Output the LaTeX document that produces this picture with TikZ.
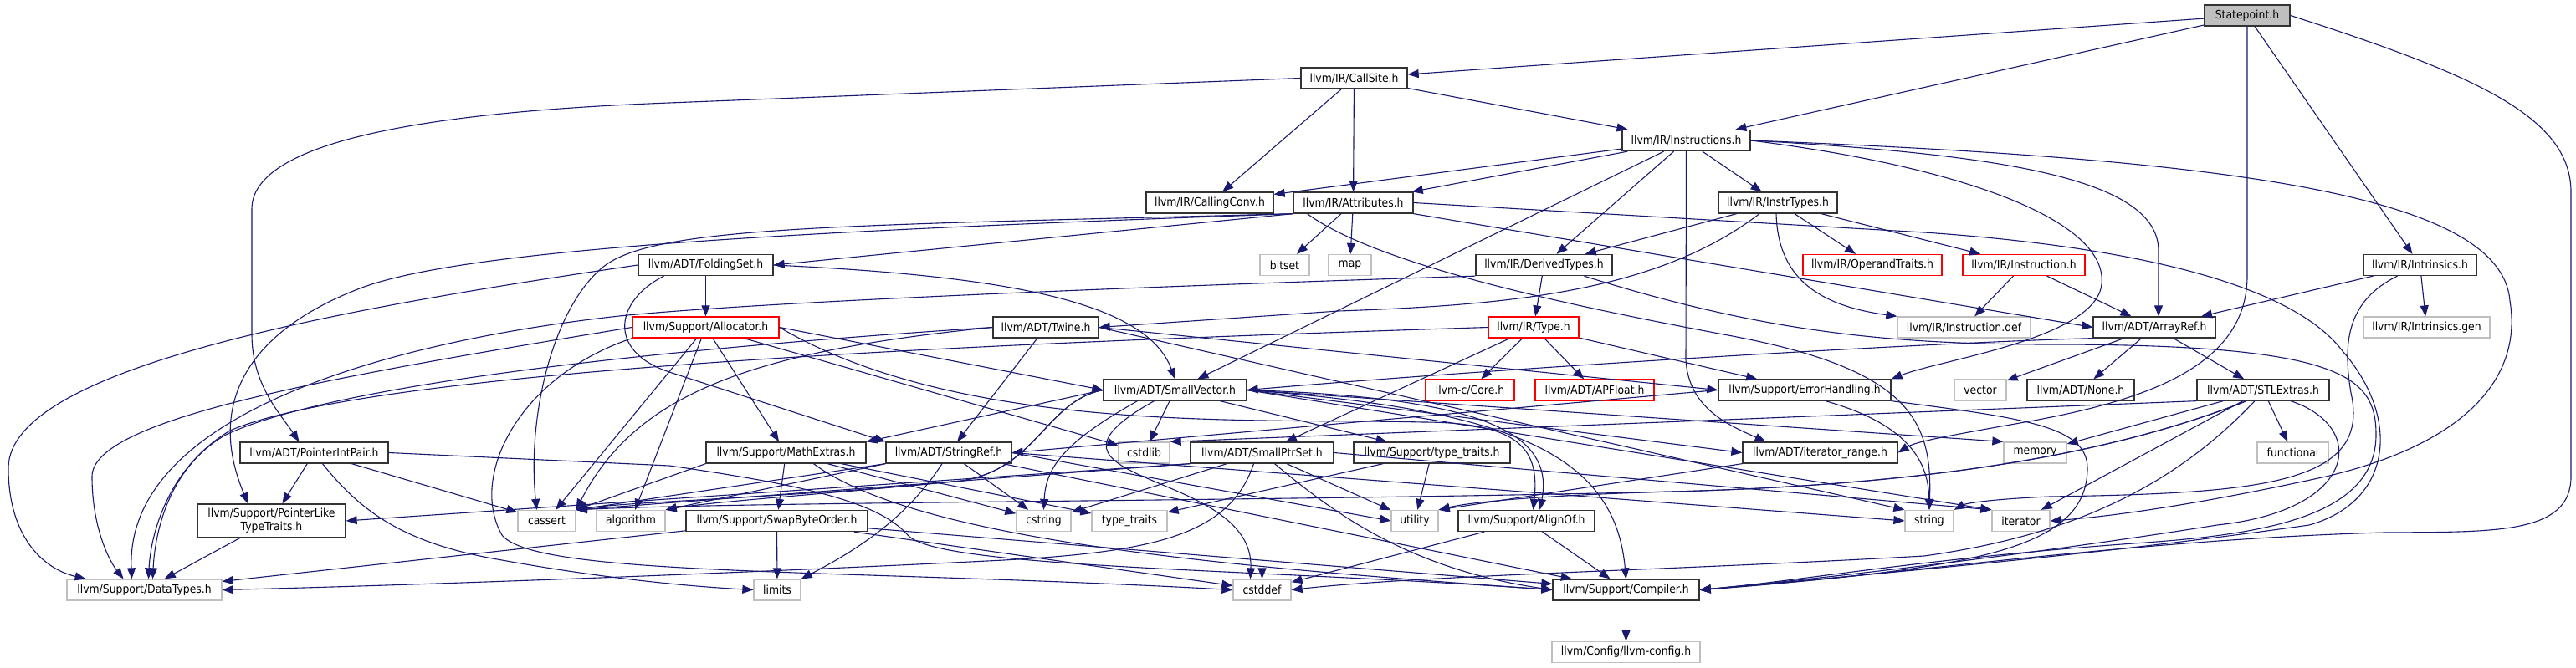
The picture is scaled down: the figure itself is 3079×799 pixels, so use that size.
\documentclass[tikz,border=0pt]{standalone}
\usepackage{fontspec}
\setmainfont{DejaVu Sans}[FakeStretch=0.9]
\usetikzlibrary{arrows.meta}
\definecolor{edgeblue}{HTML}{191970}
\definecolor{boxgray}{HTML}{BFBFBF}

\begin{document}
\begin{tikzpicture}[x=1pt, y=-1pt,
        every node/.style={font=\fontsize{13.8}{16}\selectfont, align=center},
        hdr/.style={draw=black!80, line width=1.3pt, minimum height=25pt, inner xsep=4pt, inner ysep=2pt},
        syshdr/.style={hdr, draw=boxgray},
        cuthdr/.style={hdr, draw=red},
        rootfile/.style={hdr, fill=boxgray},
        inc/.style={draw=edgeblue, line width=1.1pt, -{Triangle[length=13pt, width=10pt]}}
    ]
        \useasboundingbox (0,0) rectangle (3079,799);
        \node[rootfile, minimum width=102pt] (statepoint)    at (2686,18.5)   {Statepoint.h};
        \node[hdr, minimum width=127pt]      (callsite)      at (1618.5,93.5) {llvm/IR/CallSite.h};
        \node[hdr, minimum width=153pt]      (instructions)  at (2015.5,168)  {llvm/IR/Instructions.h};
        \node[hdr, minimum width=152pt]      (callingconv)   at (1446,242.5)  {llvm/IR/CallingConv.h};
        \node[hdr, minimum width=143pt]      (attributes)    at (1617.5,242.5) {llvm/IR/Attributes.h};
        \node[hdr, minimum width=142pt]      (instrtypes)    at (2125,242.5)  {llvm/IR/InstrTypes.h};
        \node[hdr, minimum width=161pt]      (foldingset)    at (843.5,317)   {llvm/ADT/FoldingSet.h};
        \node[syshdr, minimum width=59pt]    (bitset)        at (1535.5,317)  {bitset};
        \node[syshdr, minimum width=51pt]    (map)           at (1613.5,317)  {map};
        \node[hdr, minimum width=163pt]      (derivedtypes)  at (1845.5,317)  {llvm/IR/DerivedTypes.h};
        \node[cuthdr, minimum width=166pt]   (operandtraits) at (2238,317)    {llvm/IR/OperandTraits.h};
        \node[cuthdr, minimum width=146pt]   (instruction)   at (2419,317)    {llvm/IR/Instruction.h};
        \node[hdr, minimum width=135pt]      (intrinsics)    at (2892.5,317)  {llvm/IR/Intrinsics.h};
        \node[cuthdr, minimum width=175pt]   (allocator)     at (843.5,391.5) {llvm/Support/Allocator.h};
        \node[hdr, minimum width=126pt]      (twine)         at (1250,391.5)  {llvm/ADT/Twine.h};
        \node[cuthdr, minimum width=108pt]   (type)          at (1833,391.5)  {llvm/IR/Type.h};
        \node[syshdr, minimum width=159pt]   (instructiondef) at (2347.5,391.5) {llvm/IR/Instruction.def};
        \node[hdr, minimum width=146pt]      (arrayref)      at (2575,391.5)  {llvm/ADT/ArrayRef.h};
        \node[syshdr, minimum width=151pt]   (intrinsicsgen) at (2900.5,391.5) {llvm/IR/Intrinsics.gen};
        \node[hdr, minimum width=171pt]      (smallvector)   at (1404.5,466.5) {llvm/ADT/SmallVector.h};
        \node[cuthdr, minimum width=106pt]   (core)          at (1757,466.5)  {llvm-c/Core.h};
        \node[cuthdr, minimum width=142pt]   (apfloat)       at (1906,466.5)  {llvm/ADT/APFloat.h};
        \node[hdr, minimum width=206pt]      (errorhandling) at (2157,466.5)  {llvm/Support/ErrorHandling.h};
        \node[syshdr, minimum width=62pt]    (vector)        at (2367,466.5)  {vector};
        \node[hdr, minimum width=128pt]      (none)          at (2487,466.5)  {llvm/ADT/None.h};
        \node[hdr, minimum width=158pt]      (stlextras)     at (2705,466.5)  {llvm/ADT/STLExtras.h};
        \node[hdr, minimum width=177pt]      (pointerintpair) at (375.5,541.5) {llvm/ADT/PointerIntPair.h};
        \node[hdr, minimum width=191pt]      (mathextras)    at (939.5,541.5) {llvm/Support/MathExtras.h};
        \node[hdr, minimum width=150pt]      (stringref)     at (1134,541.5)  {llvm/ADT/StringRef.h};
        \node[syshdr, minimum width=61pt]    (cstdlib)       at (1367.5,541.5) {cstdlib};
        \node[hdr, minimum width=171pt]      (smallptrset)   at (1508.5,541.5) {llvm/ADT/SmallPtrSet.h};
        \node[hdr, minimum width=187pt]      (typetraitsh)   at (1711.5,541.5) {llvm/Support/type\_traits.h};
        \node[hdr, minimum width=185pt]      (iteratorrange) at (2175.5,541.5) {llvm/ADT/iterator\_range.h};
        \node[syshdr, minimum width=75pt]    (memory)        at (2432.5,541.5) {memory};
        \node[syshdr, minimum width=85pt]    (functional)    at (2740.5,541.5) {functional};
        \node[hdr, minimum width=177pt, minimum height=40pt] (pointerlike) at (324.5,623) {llvm/Support/PointerLike\\TypeTraits.h};
        \node[syshdr, minimum width=69pt]    (cassert)       at (653.5,623)   {cassert};
        \node[syshdr, minimum width=82pt]    (algorithm)     at (754,623)     {algorithm};
        \node[hdr, minimum width=217pt]      (swapbyteorder) at (928.5,623)   {llvm/Support/SwapByteOrder.h};
        \node[syshdr, minimum width=65pt]    (cstring)       at (1247.5,623)  {cstring};
        \node[syshdr, minimum width=90pt]    (typetraits)    at (1350,623)    {type\_traits};
        \node[syshdr, minimum width=56pt]    (utility)       at (1691,623)    {utility};
        \node[hdr, minimum width=163pt]      (alignof)       at (1824.5,623)  {llvm/Support/AlignOf.h};
        \node[syshdr, minimum width=58pt]    (string)        at (2306,623)    {string};
        \node[syshdr, minimum width=69pt]    (iterator)      at (2415.5,623)  {iterator};
        \node[syshdr, minimum width=185pt]   (datatypes)     at (172.5,705.5) {llvm/Support/DataTypes.h};
        \node[syshdr, minimum width=56pt]    (limits)        at (929,705.5)   {limits};
        \node[syshdr, minimum width=69pt]    (cstddef)       at (1508.5,705.5) {cstddef};
        \node[hdr, minimum width=175pt]      (compiler)      at (1943.5,705.5) {llvm/Support/Compiler.h};
        \node[syshdr, minimum width=177pt]   (llvmconfig)    at (1943.5,780)  {llvm/Config/llvm-config.h};

        \draw[inc] (statepoint) -- (callsite);
        \draw[inc] (statepoint) -- (instructions);
        \draw[inc] (statepoint) -- (intrinsics);
        \draw[inc] (statepoint.south) -- (2686,330) .. controls (2686,440) and (2560,480) .. (2420,505) .. controls (2330,521) and (2290,528) .. (iteratorrange.east);
        \draw[inc] (statepoint.east) .. controls (2960,90) and (3073,140) .. (3073,230) -- (3073,570) .. controls (3073,640) and (2980,636) .. (2850,637) .. controls (2550,645) and (2250,690) .. (compiler.east);

        \draw[inc] (callsite) -- (callingconv);
        \draw[inc] (callsite) -- (attributes);
        \draw[inc] (callsite) -- (instructions);
        \draw[inc] (callsite.west) -- (800,123) .. controls (480,135) and (301,175) .. (301,250) -- (301,400) .. controls (301,460) and (335,495) .. ([xshift=-18pt]pointerintpair.north);

        \draw[inc] (instructions) -- (callingconv);
        \draw[inc] (instructions) -- (attributes);
        \draw[inc] (instructions) -- (smallvector);
        \draw[inc] (instructions) -- (derivedtypes);
        \draw[inc] (instructions) -- (instrtypes);
        \draw[inc] (instructions.south) -- (2015,430) .. controls (2018,490) and (2070,510) .. ([xshift=-65pt]iteratorrange.north);
        \draw[inc] (instructions.east) .. controls (2400,185) and (2580,215) .. (2580,300) -- ([xshift=5pt]arrayref.north);
        \draw[inc] (instructions.east) .. controls (2350,200) and (2520,265) .. (2512,340) .. controls (2505,405) and (2320,430) .. (errorhandling.north east);
        \draw[inc] (instructions.east) .. controls (2650,190) and (2990,230) .. (3000,360) .. controls (3015,450) and (2950,530) .. (2780,570) .. controls (2620,605) and (2520,618) .. (iterator.east);

        \draw[inc] (intrinsics) -- (arrayref);
        \draw[inc] (intrinsics) -- (intrinsicsgen);
        \draw[inc] ([xshift=-27pt]intrinsics.south) .. controls (2805,360) and (2800,410) .. (2810,470) .. controls (2835,580) and (2700,590) .. (2450,594) .. controls (2380,597) and (2350,602) .. (string.north east);

        \draw[inc] (attributes.south west) -- (foldingset.east);
        \draw[inc] (attributes) -- (bitset);
        \draw[inc] (attributes) -- (map);
        \draw[inc] (attributes.south east) -- (arrayref.west);
        \draw[inc] ([xshift=-55pt]attributes.south) .. controls (1650,320) and (1900,370) .. (2060,400) .. controls (2280,440) and (2310,500) .. (string.north);
        \draw[inc] (attributes.east) -- (2300,278) .. controls (2550,295) and (2740,340) .. (2800,420) .. controls (2870,500) and (2860,600) .. (2760,628) .. controls (2500,665) and (2200,690) .. (compiler.east);
        \draw[inc] (attributes.south west) .. controls (1000,275) and (560,295) .. (430,345) .. controls (300,395) and (245,480) .. ([xshift=-28pt]pointerlike.north);
        \draw[inc] (attributes.south west) .. controls (1000,270) and (780,270) .. (720,320) .. controls (660,370) and (630,500) .. ([xshift=-12pt]cassert.north);

        \draw[inc] (instrtypes) -- (derivedtypes);
        \draw[inc] (instrtypes) -- (operandtraits);
        \draw[inc] (instrtypes) -- (instruction);
        \draw[inc] ([xshift=-22pt]instrtypes.south) .. controls (1980,350) and (1800,365) .. (1600,372) -- (twine.east);
        \draw[inc] ([xshift=-2pt]instrtypes.south) .. controls (2125,330) and (2170,365) .. (instructiondef.north west);

        \draw[inc] (foldingset) -- (allocator);
        \draw[inc] (foldingset.east) .. controls (1200,330) and (1370,360) .. (smallvector.north);
        \draw[inc] (foldingset.west) .. controls (400,370) and (10,440) .. (10,560) .. controls (10,640) and (50,680) .. ([xshift=-70pt]datatypes.north);
        \draw[inc] ([xshift=-50pt]foldingset.south) .. controls (735,360) and (725,420) .. (800,445) -- (stringref.north west);

        \draw[inc] (allocator) -- (mathextras);
        \draw[inc] (allocator.east) -- (smallvector.west);
        \draw[inc] (allocator) -- (cstdlib);
        \draw[inc] (allocator) -- (algorithm);
        \draw[inc] (allocator) -- (cassert);
        \draw[inc] (allocator.east) .. controls (1150,520) and (1500,500) .. (1700,505) .. controls (1820,505) and (1840,540) .. ([xshift=8pt]alignof.north);
        \draw[inc] (allocator.west) .. controls (400,450) and (110,500) .. (110,570) .. controls (110,630) and (130,670) .. ([xshift=-25pt]datatypes.north);
        \draw[inc] (allocator.south west) .. controls (620,450) and (560,570) .. (600,640) .. controls (640,690) and (1000,680) .. (cstddef.west);

        \draw[inc] (derivedtypes) -- (type);
        \draw[inc] (derivedtypes.south west) .. controls (1300,345) and (900,362) .. (740,378) .. controls (450,410) and (150,500) .. ([xshift=-15pt]datatypes.north);
        \draw[inc] ([xshift=48pt]derivedtypes.south) .. controls (2100,395) and (2250,412) .. (2450,412) .. controls (2800,412) and (2840,450) .. (2840,520) .. controls (2840,620) and (2700,640) .. (2550,650) .. controls (2300,668) and (2150,695) .. (compiler.east);

        \draw[inc] (type) -- (core);
        \draw[inc] (type) -- (apfloat);
        \draw[inc] (type) -- (errorhandling);
        \draw[inc] (type) -- (smallptrset);
        \draw[inc] (type.west) .. controls (1200,410) and (450,440) .. (275,515) .. controls (200,560) and (180,640) .. ([xshift=5pt]datatypes.north);

        \draw[inc] (instruction) -- (instructiondef);
        \draw[inc] (instruction) -- (arrayref);

        \draw[inc] (twine) -- (stringref);
        \draw[inc] (twine.east) -- (errorhandling.west);
        \draw[inc] (twine.east) -- (string.north west);
        \draw[inc] (twine.west) .. controls (900,420) and (760,470) .. (cassert.north east);
        \draw[inc] (twine.west) .. controls (900,410) and (420,450) .. (270,520) .. controls (200,560) and (185,640) .. ([xshift=10pt]datatypes.north);

        \draw[inc] (arrayref) -- (vector);
        \draw[inc] (arrayref) -- (none);
        \draw[inc] (arrayref) -- (stlextras);
        \draw[inc] (arrayref.south west) .. controls (2300,410) and (1800,440) .. (smallvector.east);

        \draw[inc] (smallvector) -- (cstdlib);
        \draw[inc] (smallvector) -- (typetraitsh);
        \draw[inc] (smallvector.west) -- (mathextras.north east);
        \draw[inc] (smallvector.east) -- (iteratorrange.west);
        \draw[inc] (smallvector.east) -- (memory.north west);
        \draw[inc] (smallvector.east) -- (iterator.north west);
        \draw[inc] ([xshift=-45pt]smallvector.south) .. controls (1270,530) and (1250,560) .. (cstring.north);
        \draw[inc] ([xshift=-25pt]smallvector.south) .. controls (1200,580) and (1500,560) .. ([xshift=-14pt]cstddef.north);
        \draw[inc] (smallvector.west) .. controls (1250,480) and (1240,560) .. (1150,575) .. controls (1000,590) and (850,600) .. (algorithm.north east);
        \draw[inc] (smallvector.west) .. controls (1250,480) and (1240,560) .. (1150,575) .. controls (950,595) and (750,600) .. (cassert.north east);
        \draw[inc] (smallvector.east) .. controls (1750,475) and (1860,510) .. ([xshift=16pt]alignof.north);
        \draw[inc] (smallvector.east) .. controls (1800,490) and (1930,540) .. (compiler.north);

        \draw[inc] (stringref) -- (cstring);
        \draw[inc] (stringref) -- (compiler);
        \draw[inc] (stringref.south west) -- (algorithm.north east);
        \draw[inc] (stringref.south west) -- (cassert.north east);
        \draw[inc] (stringref.east) -- (string.west);
        \draw[inc] (stringref.east) -- (utility.west);
        \draw[inc] ([xshift=-8pt]stringref.south) .. controls (1090,610) and (1040,650) .. (limits.north east);

        \draw[inc] (mathextras) -- (swapbyteorder);
        \draw[inc] (mathextras.south west) -- (cassert.north east);
        \draw[inc] (mathextras) -- (cstring);
        \draw[inc] (mathextras) -- (typetraits);
        \draw[inc] ([xshift=33pt]mathextras.south) .. controls (1100,650) and (1500,680) .. (compiler.west);

        \draw[inc] (swapbyteorder) -- (limits);
        \draw[inc] (swapbyteorder) -- (cstddef);
        \draw[inc] (swapbyteorder) -- (compiler);
        \draw[inc] (swapbyteorder) -- (datatypes);

        \draw[inc] (smallptrset) -- (cstddef);
        \draw[inc] (smallptrset) -- (cstring);
        \draw[inc] (smallptrset) -- (utility);
        \draw[inc] (smallptrset.south west) -- (pointerlike.east);
        \draw[inc] (smallptrset.south west) -- (cassert.north east);
        \draw[inc] (smallptrset.east) -- (iterator.north west);
        \draw[inc] ([xshift=15pt]smallptrset.south) .. controls (1590,610) and (1680,680) .. (compiler.west);
        \draw[inc] ([xshift=-10pt]smallptrset.south) .. controls (1470,640) and (1380,660) .. (1200,670) .. controls (900,685) and (500,700) .. (datatypes.east);

        \draw[inc] (typetraitsh) -- (typetraits);
        \draw[inc] (typetraitsh) -- (utility);
        \draw[inc] (iteratorrange.south west) -- (utility.north east);
        \draw[inc] (alignof) -- (compiler);
        \draw[inc] (alignof) -- (cstddef);

        \draw[inc] (errorhandling.west) -- (stringref.east);
        \draw[inc] ([xshift=25pt]errorhandling.south) .. controls (2290,510) and (2305,560) .. (string.north);
        \draw[inc] (errorhandling.south east) .. controls (2420,500) and (2495,510) .. (2495,560) .. controls (2495,660) and (2350,680) .. (compiler.east);

        \draw[inc] (stlextras) -- (functional);
        \draw[inc] (stlextras) -- (memory);
        \draw[inc] (stlextras) -- (iterator);
        \draw[inc] (stlextras.south west) -- (cstdlib.north east);
        \draw[inc] ([xshift=-20pt]stlextras.south) .. controls (2520,545) and (2300,580) .. (2000,588) .. controls (1500,600) and (900,600) .. (cassert.north east);
        \draw[inc] ([xshift=-20pt]stlextras.south) .. controls (2520,545) and (2300,580) .. (2000,588) .. controls (1850,592) and (1760,600) .. (utility.north east);
        \draw[inc] ([xshift=-10pt]stlextras.south) .. controls (2600,580) and (2480,640) .. (2300,665) .. controls (2000,682) and (1700,688) .. (cstddef.east);
        \draw[inc] ([xshift=33pt]stlextras.south) .. controls (2830,510) and (2820,610) .. (2650,628) .. controls (2450,660) and (2200,690) .. (compiler.east);

        \draw[inc] (pointerintpair) -- (pointerlike);
        \draw[inc] (pointerintpair) -- (cassert);
        \draw[inc] ([xshift=10pt]pointerintpair.south) .. controls (430,610) and (480,650) .. (600,670) .. controls (700,688) and (800,700) .. (limits.west);
        \draw[inc] (pointerintpair.east) -- (800,557) .. controls (960,580) and (1050,600) .. (1085,640) .. controls (1120,680) and (1500,680) .. (compiler.west);

        \draw[inc] (pointerlike) -- (datatypes);
        \draw[inc] (compiler) -- (llvmconfig);
    \end{tikzpicture}
\end{document}
